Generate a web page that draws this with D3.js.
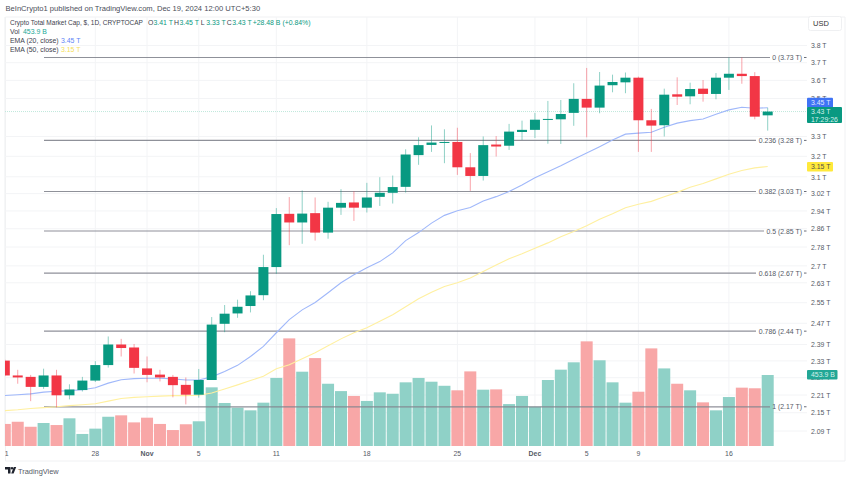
<!DOCTYPE html>
<html>
<head>
<meta charset="utf-8">
<script src="https://cdn.jsdelivr.net/npm/d3@7"></script>
<style>
    html, body { margin: 0; padding: 0; background: #fff; }
    svg { display: block; }
    text { font-family: 'Liberation Sans', sans-serif; font-size: 6.9px; fill: #555a66; }
    .axis path.domain, .axis .tick line { display: none; }
    .grid line { stroke: #f3f4f6; stroke-width: 1; }
</style>
</head>
<body>
<div id="chart"></div>
<script>
// candles, one per day from 21 Oct to 19 Dec 2024, in trillions of USD
const open = [2.331, 2.278, 2.273, 2.238, 2.278, 2.209, 2.227, 2.260, 2.315, 2.390,
    2.379, 2.303, 2.281, 2.273, 2.245, 2.211, 2.262, 2.468, 2.508, 2.537,
    2.580, 2.695, 2.927, 2.888, 2.930, 2.843, 2.955, 2.979, 2.955, 3.005,
    3.024, 3.052, 3.206, 3.257, 3.267, 3.272, 3.146, 3.104, 3.259, 3.253,
    3.323, 3.334, 3.387, 3.389, 3.423, 3.498, 3.451, 3.573, 3.589, 3.615,
    3.384, 3.358, 3.523, 3.512, 3.554, 3.525, 3.615, 3.637, 3.624, 3.41];
const high = [2.335, 2.298, 2.280, 2.302, 2.298, 2.247, 2.273, 2.329, 2.420, 2.411,
    2.392, 2.346, 2.298, 2.280, 2.271, 2.301, 2.494, 2.541, 2.562, 2.596,
    2.747, 2.953, 3.004, 3.035, 3.002, 2.982, 3.041, 3.031, 3.071, 3.098,
    3.106, 3.235, 3.296, 3.357, 3.337, 3.345, 3.216, 3.300, 3.302, 3.365,
    3.382, 3.423, 3.487, 3.492, 3.584, 3.670, 3.647, 3.632, 3.644, 3.621,
    3.444, 3.554, 3.617, 3.587, 3.602, 3.641, 3.73, 3.73, 3.646, 3.45];
const low = [2.276, 2.249, 2.189, 2.231, 2.168, 2.195, 2.222, 2.255, 2.306, 2.346,
    2.285, 2.254, 2.257, 2.202, 2.178, 2.201, 2.262, 2.436, 2.491, 2.512,
    2.560, 2.667, 2.788, 2.794, 2.808, 2.816, 2.922, 2.895, 2.933, 2.963,
    2.974, 3.025, 3.158, 3.222, 3.166, 3.109, 3.033, 3.082, 3.199, 3.232,
    3.282, 3.292, 3.263, 3.262, 3.355, 3.296, 3.421, 3.534, 3.529, 3.222,
    3.222, 3.300, 3.465, 3.469, 3.483, 3.496, 3.547, 3.581, 3.389, 3.33];
const close = [2.278, 2.271, 2.238, 2.278, 2.209, 2.229, 2.260, 2.315, 2.390, 2.377,
    2.305, 2.280, 2.271, 2.244, 2.211, 2.262, 2.465, 2.507, 2.534, 2.579,
    2.695, 2.926, 2.888, 2.928, 2.843, 2.955, 2.977, 2.955, 3.002, 3.024,
    3.051, 3.209, 3.256, 3.269, 3.272, 3.146, 3.104, 3.256, 3.249, 3.325,
    3.334, 3.387, 3.391, 3.417, 3.498, 3.451, 3.571, 3.591, 3.615, 3.384,
    3.356, 3.521, 3.510, 3.552, 3.525, 3.615, 3.637, 3.624, 3.403, 3.43];
// volume in billions
const volume = [141, 155, 123, 147, 134, 177, 77, 111, 187, 196,
    151, 181, 141, 102, 139, 158, 375, 275, 245, 228,
    277, 435, 688, 475, 562, 398, 351, 320, 288, 343,
    334, 407, 435, 411, 385, 356, 477, 360, 362, 268,
    320, 251, 422, 488, 535, 669, 548, 407, 277, 347,
    624, 496, 398, 356, 279, 228, 313, 373, 369, 453.9];
const ema20 = [2.208, 2.211, 2.214, 2.220, 2.223, 2.225, 2.228, 2.235, 2.251, 2.263,
    2.267, 2.268, 2.268, 2.266, 2.262, 2.262, 2.273, 2.292, 2.314, 2.346,
    2.383, 2.434, 2.484, 2.522, 2.551, 2.590, 2.630, 2.663, 2.692, 2.718,
    2.755, 2.808, 2.843, 2.885, 2.920, 2.941, 2.956, 2.986, 3.006, 3.030,
    3.061, 3.095, 3.124, 3.153, 3.186, 3.216, 3.248, 3.282, 3.312, 3.317,
    3.322, 3.348, 3.369, 3.382, 3.391, 3.416, 3.439, 3.453, 3.448, 3.45];
const ema50 = [2.157, 2.160, 2.164, 2.167, 2.170, 2.174, 2.177, 2.180, 2.189, 2.198,
    2.202, 2.204, 2.206, 2.208, 2.208, 2.209, 2.217, 2.231, 2.245, 2.260,
    2.275, 2.302, 2.316, 2.338, 2.360, 2.385, 2.411, 2.434, 2.453, 2.478,
    2.503, 2.534, 2.566, 2.592, 2.615, 2.630, 2.650, 2.677, 2.704, 2.730,
    2.751, 2.775, 2.798, 2.825, 2.848, 2.873, 2.902, 2.927, 2.955, 2.971,
    2.984, 3.005, 3.026, 3.050, 3.068, 3.090, 3.112, 3.130, 3.143, 3.15];

const priceTicks = [3.8, 3.7, 3.6, 3.5, 3.3, 3.2, 3.1, 3.02, 2.94, 2.86,
    2.78, 2.7, 2.63, 2.55, 2.47, 2.39, 2.33, 2.27, 2.21, 2.15, 2.09];
const dateTicks = ['2024-10-21', '2024-10-28', '2024-11-01', '2024-11-05', '2024-11-11',
    '2024-11-18', '2024-11-25', '2024-12-01', '2024-12-05', '2024-12-09', '2024-12-16'];
const dateLabels = ['21', '28', 'Nov', '5', '11', '18', '25', 'Dec', '5', '9', '16'];
const fibLevels = ['0', '0.236', '0.382', '0.5', '0.618', '0.786', '1'];
const fibPrices = [3.73, 3.28, 3.03, 2.85, 2.67, 2.44, 2.17];

const legendOhlc = [['O', '3.41 T'], ['H', '3.45 T'], ['L', '3.33 T'], ['C', '3.43 T']];

const GREEN = '#089981', RED = '#f23645', BLUE = '#a0b8fa', YELLOW = '#fff0a0', GREY = '#83868f';

function createChart() {
    let svgWidth = 850,
        svgHeight = 480,
        paneLeft = 5,
        paneRight = 807,
        paneTop = 19,
        paneBottom = 446,
        svg = d3.select('#chart').append('svg')
                .attr('width', svgWidth)
                .attr('height', svgHeight);

    let days = d3.utcDay.range(new Date(Date.UTC(2024, 9, 21)), new Date(Date.UTC(2024, 11, 20))),
        parseDay = d3.utcParse('%Y-%m-%d');

    // scales
    let xScale = d3.scaleUtc().domain([days[0], days[59]]).range([4.8, 767.7]),
        yScale = d3.scaleLog().domain([2.09, 3.8]).range([431, 45.5]),
        volScale = d3.scaleLinear().domain([0, 453.9]).range([paneBottom, 375]);

    let defs = svg.append('defs');
    defs.append('clipPath').attr('id', 'pane-clip')
        .append('rect')
        .attr('x', paneLeft).attr('y', paneTop)
        .attr('width', paneRight - paneLeft).attr('height', paneBottom - paneTop);
    // the first date label is cut by the pane edge, as in the screenshot
    defs.append('clipPath').attr('id', 'time-clip')
        .append('rect')
        .attr('x', paneLeft).attr('y', paneBottom)
        .attr('width', paneRight - paneLeft).attr('height', 15);

    // frame
    svg.append('path')
       .attr('d', `M${paneLeft + .5},461V${paneTop - 2}H${svgWidth - 5}V461H${paneLeft + .5}`)
       .attr('fill', 'none').attr('stroke', '#f0f1f3');

    // grid
    let grid = svg.append('g').attr('class', 'grid');
    grid.selectAll('.h').data(priceTicks).enter().append('line')
        .attr('x1', paneLeft).attr('x2', paneRight)
        .attr('y1', d => yScale(d)).attr('y2', d => yScale(d));
    grid.selectAll('.v').data(dateTicks).enter().append('line')
        .attr('x1', d => xScale(parseDay(d))).attr('x2', d => xScale(parseDay(d)))
        .attr('y1', paneTop - 2).attr('y2', paneBottom);

    let plot = svg.append('g').attr('clip-path', 'url(#pane-clip)');

    // volume
    plot.append('g').selectAll('rect').data(volume).enter().append('rect')
        .attr('x', (d, i) => xScale(days[i]) - 6)
        .attr('width', 12)
        .attr('y', d => volScale(d))
        .attr('height', d => paneBottom - volScale(d))
        .attr('fill', (d, i) => close[i] >= open[i] ? '#8fd1c7' : '#f8a7a7');

    // fib retracement
    let fibEnds = [770, 756, 756, 764, 756, 756, 770];
    plot.append('g').selectAll('line').data(fibPrices).enter().append('line')
        .attr('x1', 44).attr('x2', (d, i) => fibEnds[i])
        .attr('y1', d => yScale(d)).attr('y2', d => yScale(d))
        .attr('stroke', GREY).attr('stroke-width', 1.2).attr('opacity', .9);

    // last price line
    plot.append('line')
        .attr('x1', paneLeft).attr('x2', paneRight)
        .attr('y1', yScale(close[59])).attr('y2', yScale(close[59]))
        .attr('stroke', '#bfe8dc').attr('stroke-dasharray', '1,1');

    // emas
    let emaLine = d3.line().x((d, i) => xScale(days[i])).y(d => yScale(d));
    plot.append('path').attr('d', emaLine(ema50))
        .attr('fill', 'none').attr('stroke', YELLOW).attr('stroke-width', 1.1);
    plot.append('path').attr('d', emaLine(ema20))
        .attr('fill', 'none').attr('stroke', BLUE).attr('stroke-width', 1.1);

    // candles
    let candles = plot.append('g').selectAll('g').data(days).enter().append('g')
                      .attr('transform', d => `translate(${xScale(d)},0)`);
    candles.append('line')
           .attr('y1', (d, i) => yScale(high[i])).attr('y2', (d, i) => yScale(low[i]))
           .attr('stroke', (d, i) => close[i] >= open[i] ? GREEN : RED)
           .attr('stroke-opacity', .45);
    candles.append('rect')
           .attr('x', -5).attr('width', 10)
           .attr('y', (d, i) => yScale(Math.max(open[i], close[i])))
           .attr('height', (d, i) => Math.max(1, Math.abs(yScale(open[i]) - yScale(close[i]))))
           .attr('fill', (d, i) => close[i] >= open[i] ? GREEN : RED);

    // fib labels
    svg.append('g').selectAll('text').data(fibPrices).enter().append('text')
       .attr('x', 802).attr('y', d => yScale(d) + 2.5)
       .attr('text-anchor', 'end')
       .text((d, i) => `${fibLevels[i]} (${d3.format('.2f')(d)} T)`);
    svg.append('g').selectAll('line').data(fibPrices).enter().append('line')
       .attr('x1', 804).attr('x2', 806.5)
       .attr('y1', d => yScale(d)).attr('y2', d => yScale(d))
       .attr('stroke', '#6a6d78');

    setUpAxes(svg, xScale, yScale, parseDay);
    setUpBadges(svg, yScale, volScale);
    setUpLegend(svg);
    setUpFooter(svg);
}

function setUpAxes(svg, xScale, yScale, parseDay) {
    let yAxis = d3.axisRight(yScale)
                  .tickValues(priceTicks)
                  .tickSize(0).tickPadding(0)
                  .tickFormat(d => `${d} T`);
    svg.append('g').attr('class', 'axis')
       .attr('transform', 'translate(811,0)')
       .call(yAxis);

    let xAxis = d3.axisBottom(xScale)
                  .tickValues(dateTicks.map(parseDay))
                  .tickSize(0).tickPadding(0)
                  .tickFormat((d, i) => dateLabels[i]);
    let xAxisGroup = svg.append('g').attr('class', 'axis')
                        .attr('clip-path', 'url(#time-clip)')
                        .call(xAxis);
    xAxisGroup.selectAll('.tick').attr('transform', function (d) {
        return `translate(${xScale(d)},451)`;
    });
    xAxisGroup.selectAll('.tick text')
              .attr('font-weight', (d, i) => isNaN(+dateLabels[i]) ? 'bold' : null);

    svg.selectAll('.axis text').attr('font-size', null).attr('font-family', null);
}

function setUpBadges(svg, yScale, volScale) {
    function badge(y, height, width, color, lines, textColor) {
        svg.append('rect')
           .attr('x', 807).attr('y', y)
           .attr('width', width).attr('height', height)
           .attr('rx', 1)
           .attr('fill', color);
        lines.forEach((line, i) => {
            svg.append('text')
               .attr('x', 811).attr('y', y + 7 + i * 7.5)
               .style('fill', textColor)
               .text(line);
        });
    }
    badge(yScale(ema20[59]) - 10, 10, 26, '#3f73f5', ['3.45 T'], '#dfe8ff');
    badge(yScale(close[59]) - 4.5, 16, 35, GREEN, ['3.43 T', '17:29:26'], '#d5f0ea');
    badge(yScale(ema50[59]) - 4.5, 9.5, 26, '#ffe93b', ['3.15 T'], '#55524a');
    badge(volScale(453.9) - 5, 9.5, 30.5, '#22a796', ['453.9 B'], '#d5f0ea');

    // currency button
    svg.append('rect')
       .attr('x', 808.5).attr('y', 16.5)
       .attr('width', 33).attr('height', 14).attr('rx', 2)
       .attr('fill', '#fff').attr('stroke', '#eff0f2');
    svg.append('text').attr('x', 813).attr('y', 26).style('font-size', '7.5px').style('fill', '#333').text('USD');
}

function setUpLegend(svg) {
    svg.append('text').attr('x', 5.5).attr('y', 11).style('fill', '#4a4e59').style('font-size', '7.6px')
       .text('BeInCrypto1 published on TradingView.com, Dec 19, 2024 12:00 UTC+5:30');

    let legend = svg.append('g').attr('class', 'legend');
    legend.append('text').attr('x', 10).attr('y', 25).style('fill', '#3e424d').style('font-size', '6.5px')
          .text('Crypto Total Market Cap, $, 1D, CRYPTOCAP');

    let ohlcX = [148, 174, 200.7, 226.7];
    legendOhlc.forEach((d, i) => {
        legend.append('text').attr('x', ohlcX[i]).attr('y', 25).style('fill', '#3e424d').text(d[0]);
        legend.append('text').attr('x', ohlcX[i] + 5.5).attr('y', 25).style('fill', GREEN).text(d[1]);
    });
    legend.append('text').attr('x', 252.7).attr('y', 25).style('fill', GREEN).text('+28.48 B (+0.84%)');

    legend.append('text').attr('x', 10).attr('y', 34).style('fill', '#3e424d').text('Vol');
    legend.append('text').attr('x', 23).attr('y', 34).style('fill', '#22a796').text('453.9 B');
    legend.append('text').attr('x', 10).attr('y', 43).style('fill', '#3e424d').text('EMA (20, close)');
    legend.append('text').attr('x', 61).attr('y', 43).style('fill', '#5f86f7').text('3.45 T');
    legend.append('text').attr('x', 10).attr('y', 52).style('fill', '#3e424d').text('EMA (50, close)');
    legend.append('text').attr('x', 61).attr('y', 52).style('fill', '#f5e05a').text('3.15 T');
}

function setUpFooter(svg) {
    // TradingView mark
    svg.append('path')
       .attr('d', 'M5,467H10.5V473.5H8V469.5H5Z M13.8,467H16.2L13.6,473.5H11.2Z')
       .attr('fill', '#1e222d');
    svg.append('circle').attr('cx', 12).attr('cy', 468.3).attr('r', 1.2).attr('fill', '#1e222d');
    svg.append('text').attr('x', 18).attr('y', 474)
       .style('font-size', '7.4px').style('fill', '#555a66')
       .text('TradingView');
}

createChart();
</script>
</body>
</html>
